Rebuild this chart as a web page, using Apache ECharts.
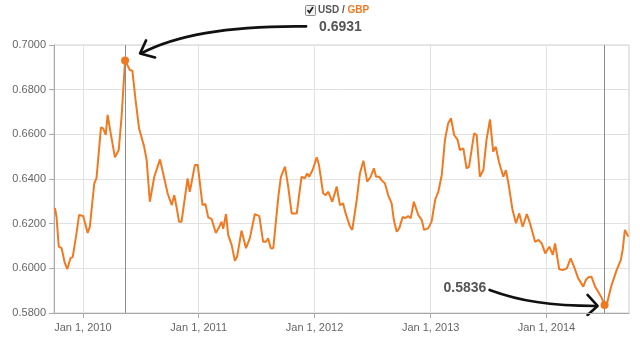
<!DOCTYPE html>
<html>
<head>
<meta charset="utf-8">
<script src="https://cdn.jsdelivr.net/npm/echarts@6/dist/echarts.min.js"></script>
<style>html,body{margin:0;padding:0;background:#fff}#c{width:640px;height:345px}</style>
</head>
<body>
<div id="c"></div>
<script>
const dates = [
'2009-10-05','2009-10-10','2009-10-17','2009-10-26','2009-11-05','2009-11-13','2009-11-23','2009-11-30','2009-12-12','2009-12-20',
'2010-01-02','2010-01-16','2010-01-23','2010-02-06','2010-02-13','2010-02-27','2010-03-06','2010-03-14','2010-03-20','2010-03-27',
'2010-04-12','2010-04-24','2010-05-03','2010-05-14','2010-05-29','2010-06-06','2010-06-16','2010-06-27','2010-07-13','2010-07-21',
'2010-07-31','2010-08-14','2010-09-01','2010-09-11','2010-09-25','2010-10-08','2010-10-16','2010-10-23','2010-10-31','2010-11-08',
'2010-11-27','2010-12-04','2010-12-20','2010-12-29','2011-01-13','2011-01-22','2011-01-31','2011-02-11','2011-02-24','2011-03-07',
'2011-03-14','2011-03-19','2011-03-28','2011-04-04','2011-04-15','2011-04-25','2011-05-02','2011-05-16','2011-05-30','2011-06-11',
'2011-06-27','2011-07-11','2011-07-23','2011-08-01','2011-08-08','2011-08-16','2011-08-24','2011-09-09','2011-09-17','2011-09-30',
'2011-10-10','2011-10-21','2011-11-06','2011-11-21','2011-12-01','2011-12-09','2011-12-15','2011-12-26','2012-01-08','2012-01-15',
'2012-01-28','2012-02-05','2012-02-13','2012-02-26','2012-03-11','2012-03-21','2012-03-31','2012-04-08','2012-04-22','2012-04-29',
'2012-05-13','2012-05-23','2012-06-03','2012-06-15','2012-06-26','2012-07-06','2012-07-13','2012-07-23','2012-07-30','2012-08-10',
'2012-08-20','2012-08-31','2012-09-07','2012-09-16','2012-09-24','2012-10-05','2012-10-12','2012-10-22','2012-10-30','2012-11-09',
'2012-11-23','2012-12-04','2012-12-11','2012-12-24','2013-01-04','2013-01-15','2013-01-25','2013-02-05','2013-02-15','2013-02-25',
'2013-03-06','2013-03-16','2013-03-27','2013-04-03','2013-04-14','2013-04-24','2013-05-02','2013-05-10','2013-05-18','2013-05-26',
'2013-06-05','2013-06-16','2013-06-26','2013-07-07','2013-07-17','2013-07-25','2013-08-04','2013-08-18','2013-08-26','2013-09-03',
'2013-09-16','2013-09-27','2013-10-07','2013-10-18','2013-10-31','2013-11-10','2013-11-26','2013-12-07','2013-12-17','2013-12-28',
'2014-01-10','2014-01-21','2014-01-28','2014-02-10','2014-02-23','2014-03-06','2014-03-18','2014-03-29','2014-04-11','2014-04-27',
'2014-05-05','2014-05-13','2014-05-23','2014-06-03','2014-06-13','2014-06-22','2014-07-03','2014-07-11','2014-07-25','2014-08-10',
'2014-08-23','2014-08-29','2014-09-05','2014-09-16'
];
const usdGbp = [
0.6270,0.6230,0.6097,0.6090,0.6024,0.5997,0.6046,0.6050,0.6158,0.6239,
0.6234,0.6158,0.6187,0.6381,0.6404,0.6631,0.6627,0.6597,0.6687,0.6627,
0.6497,0.6530,0.6679,0.6931,0.6888,0.6885,0.6754,0.6627,0.6545,0.6485,
0.6298,0.6410,0.6488,0.6425,0.6336,0.6283,0.6328,0.6276,0.6209,0.6209,
0.6403,0.6343,0.6463,0.6463,0.6283,0.6288,0.6228,0.6220,0.6158,0.6186,
0.6209,0.6177,0.6243,0.6149,0.6104,0.6034,0.6052,0.6169,0.6090,0.6134,
0.6243,0.6234,0.6119,0.6119,0.6134,0.6090,0.6090,0.6321,0.6410,0.6455,
0.6366,0.6246,0.6246,0.6410,0.6403,0.6425,0.6410,0.6440,0.6497,0.6463,
0.6336,0.6328,0.6343,0.6298,0.6366,0.6283,0.6291,0.6246,0.6186,0.6172,
0.6306,0.6425,0.6482,0.6388,0.6410,0.6448,0.6410,0.6410,0.6395,0.6380,
0.6328,0.6291,0.6216,0.6164,0.6179,0.6231,0.6224,0.6234,0.6224,0.6298,
0.6239,0.6216,0.6172,0.6179,0.6209,0.6306,0.6343,0.6418,0.6575,0.6649,
0.6672,0.6597,0.6575,0.6530,0.6537,0.6448,0.6455,0.6530,0.6605,0.6597,
0.6410,0.6440,0.6575,0.6667,0.6522,0.6545,0.6477,0.6410,0.6440,0.6381,
0.6261,0.6202,0.6246,0.6186,0.6243,0.6202,0.6119,0.6127,0.6112,0.6067,
0.6097,0.6060,0.6112,0.5996,0.5993,0.6000,0.6045,0.6007,0.5955,0.5918,
0.5948,0.5960,0.5962,0.5918,0.5895,0.5873,0.5836,0.5845,0.5925,0.5992,
0.6037,0.6082,0.6172,0.6142
];
const yTicks = [0.58, 0.60, 0.62, 0.64, 0.66, 0.68, 0.70];
const highDate = '2010-05-14', highValue = 0.6931;
const lowDate = '2014-07-03', lowValue = 0.5836;
const seriesBase = 'USD', seriesQuote = 'GBP';

const MONTHS = ['Jan','Feb','Mar','Apr','May','Jun','Jul','Aug','Sep','Oct','Nov','Dec'];
const ORANGE = '#f07a22';
const chart = echarts.init(document.getElementById('c'), null, {renderer: 'canvas'});
const FONT = 'Liberation Sans, Arial, sans-serif';

chart.setOption({
  animation: false,
  textStyle: {fontFamily: FONT},
  grid: {left: 54, right: 11, top: 45, bottom: 32, show: true, borderColor: '#cfcfcf', borderWidth: 1},
  xAxis: {
    type: 'time',
    min: '2009-10-02', max: '2014-09-18',
    splitNumber: 5,
    axisLine: {show: true, lineStyle: {color: '#a9a9a9', width: 1}},
    axisTick: {show: true, length: 5, lineStyle: {color: '#a9a9a9'}},
    axisLabel: {color: '#666', fontSize: 11, fontFamily: FONT, margin: 9,
      formatter: function (v) { const d = new Date(v); return MONTHS[d.getMonth()] + ' ' + d.getDate() + ', ' + d.getFullYear(); }},
    splitLine: {show: true, lineStyle: {color: '#e2e2e2', width: 1}},
    minorTick: {show: false}
  },
  yAxis: {
    type: 'value',
    min: yTicks[0], max: yTicks[yTicks.length - 1], interval: 0.02,
    axisLine: {show: true, lineStyle: {color: '#a9a9a9', width: 1}},
    axisTick: {show: true, length: 5, lineStyle: {color: '#a9a9a9'}},
    axisLabel: {color: '#666', fontSize: 11, fontFamily: FONT, margin: 8, formatter: v => v.toFixed(4)},
    splitLine: {show: true, lineStyle: {color: '#e2e2e2', width: 1}}
  },
  series: [{
    type: 'line',
    name: seriesBase + ' / ' + seriesQuote,
    data: dates.map((d, i) => [d, usdGbp[i]]),
    showSymbol: false,
    symbol: 'none',
    lineStyle: {color: ORANGE, width: 2},
    itemStyle: {color: ORANGE},
    markLine: {
      silent: true, symbol: 'none',
      label: {show: false},
      lineStyle: {color: '#8c8c8c', width: 1, type: 'solid'},
      data: [{xAxis: highDate}, {xAxis: lowDate}]
    },
    markPoint: {
      silent: true,
      symbol: 'circle', symbolSize: 8,
      itemStyle: {color: ORANGE},
      label: {show: false},
      data: [{coord: [highDate, highValue]}, {coord: [lowDate, lowValue]}]
    }
  }]
});

const hp = chart.convertToPixel({gridIndex: 0}, [highDate, highValue]);
const lp = chart.convertToPixel({gridIndex: 0}, [lowDate, lowValue]);

const hx = hp[0], hy = hp[1], lx = lp[0], ly = lp[1];
const arrowStyle = {stroke: '#111', lineWidth: 2.6, fill: null, lineCap: 'round', lineJoin: 'round'};
chart.setOption({
  graphic: [
    // legend checkbox
    {type: 'rect', left: 305, top: 5, shape: {width: 10, height: 10, r: 1},
     style: {fill: '#f2f2f2', stroke: '#8a8a8a', lineWidth: 1}},
    {type: 'polyline', shape: {points: [[307.5, 10], [309.5, 12.5], [313, 7]]},
     style: {stroke: '#222', lineWidth: 1.8, fill: null}},
    {type: 'text', left: 318, top: 5,
     style: {text: '{a|' + seriesBase + ' / }{b|' + seriesQuote + '}',
       rich: {a: {fill: '#555', fontSize: 10, fontWeight: 'bold', fontFamily: FONT},
              b: {fill: ORANGE, fontSize: 10, fontWeight: 'bold', fontFamily: FONT}}}},
    // high annotation
    {type: 'text', x: hx + 194, y: hy - 33,
     style: {text: highValue.toFixed(4), fill: '#555', fontSize: 14, fontWeight: 'bold', fontFamily: FONT, verticalAlign: 'middle'}},
    {type: 'bezierCurve', shape: {x1: hx + 181, y1: hy - 34, cpx1: hx + 100, cpy1: hy - 35, cpx2: hx + 50, cpy2: hy - 25, x2: hx + 16, y2: hy - 7},
     style: arrowStyle},
    {type: 'polyline', shape: {points: [[hx + 21, hy - 20], [hx + 15, hy - 7], [hx + 30, hy - 3]]},
     style: arrowStyle},
    // low annotation
    {type: 'text', x: lx - 161, y: ly - 17,
     style: {text: lowValue.toFixed(4), fill: '#555', fontSize: 14, fontWeight: 'bold', fontFamily: FONT, verticalAlign: 'middle'}},
    {type: 'bezierCurve', shape: {x1: lx - 115, y1: ly - 15, cpx1: lx - 85, cpy1: ly - 4, cpx2: lx - 55, cpy2: ly + 1, x2: lx - 8, y2: ly + 1},
     style: arrowStyle},
    {type: 'polyline', shape: {points: [[lx - 17, ly - 10], [lx - 7, ly + 1], [lx - 17, ly + 10]]},
     style: arrowStyle}
  ]
});
</script>
</body>
</html>
